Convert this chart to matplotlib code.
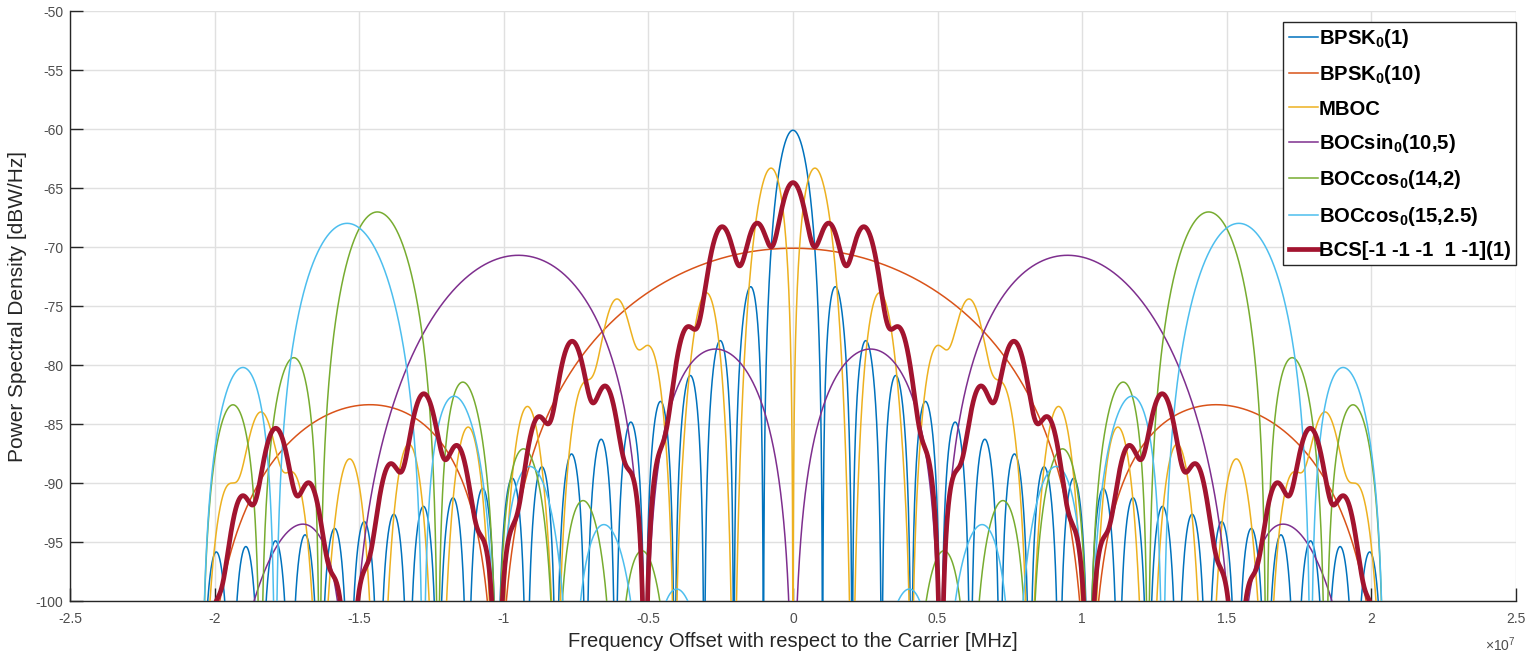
import numpy as np
import matplotlib
matplotlib.use("Agg")
import matplotlib.pyplot as plt

plt.rcParams["font.family"] = ["Liberation Sans", "DejaVu Sans"]
plt.rcParams["axes.unicode_minus"] = False
plt.rcParams["mathtext.fontset"] = "custom"
plt.rcParams["mathtext.rm"] = "Liberation Sans"
plt.rcParams["mathtext.it"] = "Liberation Sans"
plt.rcParams["mathtext.bf"] = "Liberation Sans:bold"

F0 = 1.023e6                       # reference rate
band_edge = 20.46e6                # plotted band [-edge, +edge]
labels = [r"BPSK$_\mathbf{0}$(1)", r"BPSK$_\mathbf{0}$(10)", "MBOC", r"BOCsin$_\mathbf{0}$(10,5)",
          r"BOCcos$_\mathbf{0}$(14,2)", r"BOCcos$_\mathbf{0}$(15,2.5)", "BCS[-1 -1 -1  1 -1](1)"]
bpsk1_code, bpsk1_rate = [1], 1
bpsk10_code, bpsk10_rate = [1], 10
boc11_code, boc11_rate, boc11_w = [1, -1], 1, 10 / 11
boc61_code, boc61_rate, boc61_w = [1, -1] * 6, 1, 1 / 11
bocsin_code, bocsin_rate = [1, -1] * 2, 5
boccos142_code, boccos142_rate = [1, -1, -1, 1] * 7, 2
boccos1525_code, boccos1525_rate = [1, -1, -1, 1] * 6, 2.5
bcs_code, bcs_rate = [-1, -1, -1, 1, -1], 1
xtick_labels = ["-2.5", "-2", "-1.5", "-1", "-0.5", "0", "0.5", "1", "1.5", "2", "2.5"]

colors = ["#0072BD", "#D95319", "#EDB120", "#7E2F8E", "#77AC30", "#4DBEEE", "#A2142F"]

f = np.linspace(-band_edge, band_edge, 60001)


def psd(code, rate):
    code = np.asarray(code, float)
    n = len(code)
    Tc = 1.0 / (rate * F0)
    k = np.arange(n)
    S = np.exp(-2j * np.pi * np.outer(f, k) * Tc / n) @ code
    return Tc / n**2 * np.sinc(f * Tc / n) ** 2 * np.abs(S) ** 2


def db(g):
    return 10 * np.log10(np.maximum(g, 1e-30))


curves = [
    psd(bpsk1_code, bpsk1_rate),
    psd(bpsk10_code, bpsk10_rate),
    boc11_w * psd(boc11_code, boc11_rate) + boc61_w * psd(boc61_code, boc61_rate),
    psd(bocsin_code, bocsin_rate),
    psd(boccos142_code, boccos142_rate),
    psd(boccos1525_code, boccos1525_rate),
    psd(bcs_code, bcs_rate),
]

fig = plt.figure(figsize=(15.26, 6.53), dpi=100)
ax = fig.add_axes([0.0459, 0.0796, 0.9475, 0.9034])
for i, (g, c, lab) in enumerate(zip(curves, colors, labels)):
    lw = 3.4 if i == 6 else 1.1
    ax.plot(f, db(g), color=c, lw=lw, label=lab, zorder=3 + (i == 6))

ax.set_xlim(-2.5e7, 2.5e7)
ax.set_ylim(-100, -50)
ax.set_xticks(np.arange(-2.5e7, 2.51e7, 0.5e7))
ax.set_xticklabels(xtick_labels)
ax.set_yticks(np.arange(-100, -49, 5))
ax.grid(True, color="#e0e0e0", lw=1.0)
ax.set_axisbelow(True)
for side in ("top", "right"):
    ax.spines[side].set_visible(False)
for side in ("left", "bottom"):
    ax.spines[side].set_color("#262626")
    ax.spines[side].set_linewidth(1.0)
ax.tick_params(colors="#262626", labelcolor="#4d4d4d", labelsize=10, direction="in",
               length=9.5, width=1.0)
ax.tick_params(axis="x", pad=8)
ax.tick_params(axis="y", pad=5)
ax.set_xlabel("Frequency Offset with respect to the Carrier [MHz]", fontsize=14.5,
              color="#262626", labelpad=4)
ax.set_ylabel("Power Spectral Density [dBW/Hz]", fontsize=15, color="#262626", labelpad=6)
ax.text(1.0, -0.058, r"$\times10^{7}$", transform=ax.transAxes, ha="right", va="top",
        fontsize=10, color="#4d4d4d")

leg = ax.legend(loc="upper right", bbox_to_anchor=(1.0, 0.982), prop={"weight": "bold", "size": 14.6},
                handlelength=1.45, handletextpad=0.05, borderpad=0.25, labelspacing=0.66,
                fancybox=False, framealpha=1.0, edgecolor="#262626", borderaxespad=0.0)
leg.get_frame().set_linewidth(1.0)
for line in leg.get_lines():
    line.set_linewidth(1.1)
leg.get_lines()[6].set_linewidth(3.4)

fig.savefig("out.png", dpi=100)
